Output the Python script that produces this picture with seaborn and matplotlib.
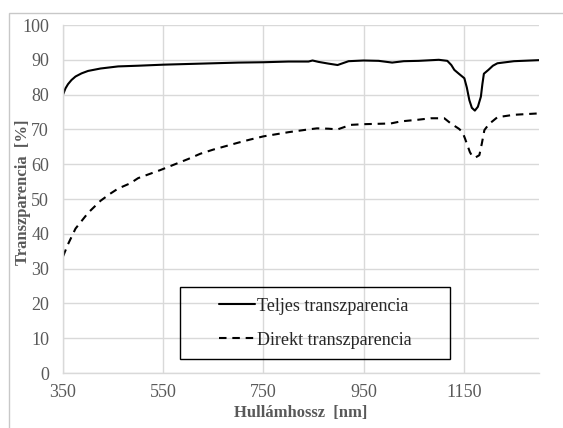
import numpy as np
import pandas as pd
import matplotlib
matplotlib.use("Agg")
import matplotlib.pyplot as plt
import matplotlib.patches as mpatches
import seaborn as sns

# ── Data ─────────────────────────────────────────────────────────────────────
wl_total = [350, 355, 360, 367, 375, 387, 400, 425, 460, 500, 550, 600, 650,
            700, 750, 800, 840, 848, 860, 880, 898, 920, 950, 980, 1007, 1030,
            1060, 1100, 1117, 1125, 1131, 1140, 1151, 1156, 1161, 1166, 1172,
            1178, 1184, 1187, 1190, 1199, 1208, 1217, 1250, 1300]
total = [80.0, 81.8, 83.0, 84.2, 85.2, 86.1, 86.8, 87.5, 88.1, 88.3, 88.6,
         88.8, 89.0, 89.2, 89.3, 89.5, 89.5, 89.8, 89.4, 88.9, 88.5, 89.6,
         89.8, 89.7, 89.2, 89.6, 89.7, 90.0, 89.7, 88.5, 87.1, 86.0, 84.7,
         82.0, 78.4, 76.2, 75.4, 76.5, 79.4, 83.0, 86.0, 87.1, 88.3, 89.0,
         89.6, 89.9]

wl_direct = [350, 360, 375, 400, 425, 444, 460, 484, 500, 544, 600, 624, 650,
             700, 724, 750, 800, 840, 857, 880, 898, 924, 950, 1004, 1024,
             1060, 1084, 1111, 1124, 1140, 1147, 1152, 1157, 1162, 1167, 1174,
             1181, 1186, 1191, 1200, 1217, 1250, 1300]
direct = [33.5, 37.0, 41.5, 46.0, 49.5, 51.5, 53.0, 54.5, 56.0, 58.3, 61.5,
          63.0, 64.2, 66.2, 67.1, 68.0, 69.2, 70.0, 70.3, 70.2, 70.0, 71.3,
          71.5, 71.7, 72.3, 72.8, 73.2, 73.2, 71.7, 70.2, 69.3, 67.5, 65.5,
          63.5, 62.2, 62.0, 62.6, 66.0, 69.8, 71.5, 73.5, 74.2, 74.6]

xticks = [350, 550, 750, 950, 1150]
yticks = list(range(0, 101, 10))
labels = ["Teljes transzparencia", "Direkt transzparencia"]

# ── Style ─────────────────────────────────────────────────────────────────────
sns.set_style("white")
plt.rcParams["font.family"] = ["Liberation Serif", "DejaVu Serif"]
GRID = "#d9d9d9"
TXT = "#595959"

fig, ax = plt.subplots(figsize=(5.63, 4.28), dpi=100)
fig.subplots_adjust(left=63/563, right=539/563, bottom=1-373/428, top=1-25/428)

sns.lineplot(x=wl_total, y=total, ax=ax, color="black", linewidth=1.5,
             label=labels[0])
sns.lineplot(x=wl_direct, y=direct, ax=ax, color="black", linewidth=1.5,
             linestyle=(0, (3.6, 2.8)), label=labels[1])

ax.set_xlim(350, 1300)
ax.set_ylim(0, 100)
ax.set_xticks(xticks)
ax.set_yticks(yticks)
ax.grid(True, color=GRID, linewidth=1)
ax.set_axisbelow(True)
for s in ["top", "right"]:
    ax.spines[s].set_visible(False)
for s in ["left", "bottom"]:
    ax.spines[s].set_color(GRID)
    ax.spines[s].set_linewidth(1)
ax.tick_params(length=0, labelsize=13, labelcolor=TXT)
ax.tick_params(axis="x", pad=8)
ax.tick_params(axis="y", pad=10)

ax.set_xlabel("Hullámhossz  [nm]", fontsize=12, fontweight="bold", color=TXT)
ax.set_ylabel("Transzparencia  [%]", fontsize=12, fontweight="bold", color=TXT)
ax.xaxis.set_label_coords(0.5, -0.093)
ax.yaxis.set_label_coords(-0.068, 0.52)

# legend centred inside a square black box
leg = ax.legend(loc="center", bbox_to_anchor=(0.53, 0.143), frameon=False,
                fontsize=13, handlelength=2.0, handletextpad=0.1,
                labelspacing=0.95)
ax.add_patch(mpatches.Rectangle((0.246, 0.040), 0.567, 0.207,
                                transform=ax.transAxes, fill=False,
                                edgecolor="black", linewidth=1, zorder=5))

# outer chart border (top and left visible in the crop)
fig.add_artist(mpatches.Rectangle((9/563, -0.1), 1.2, 1.1 - 12.5/428,
                                  transform=fig.transFigure, fill=False,
                                  edgecolor="#c8c8c8", linewidth=1))

plt.savefig("out.png", dpi=100)
plt.close()
